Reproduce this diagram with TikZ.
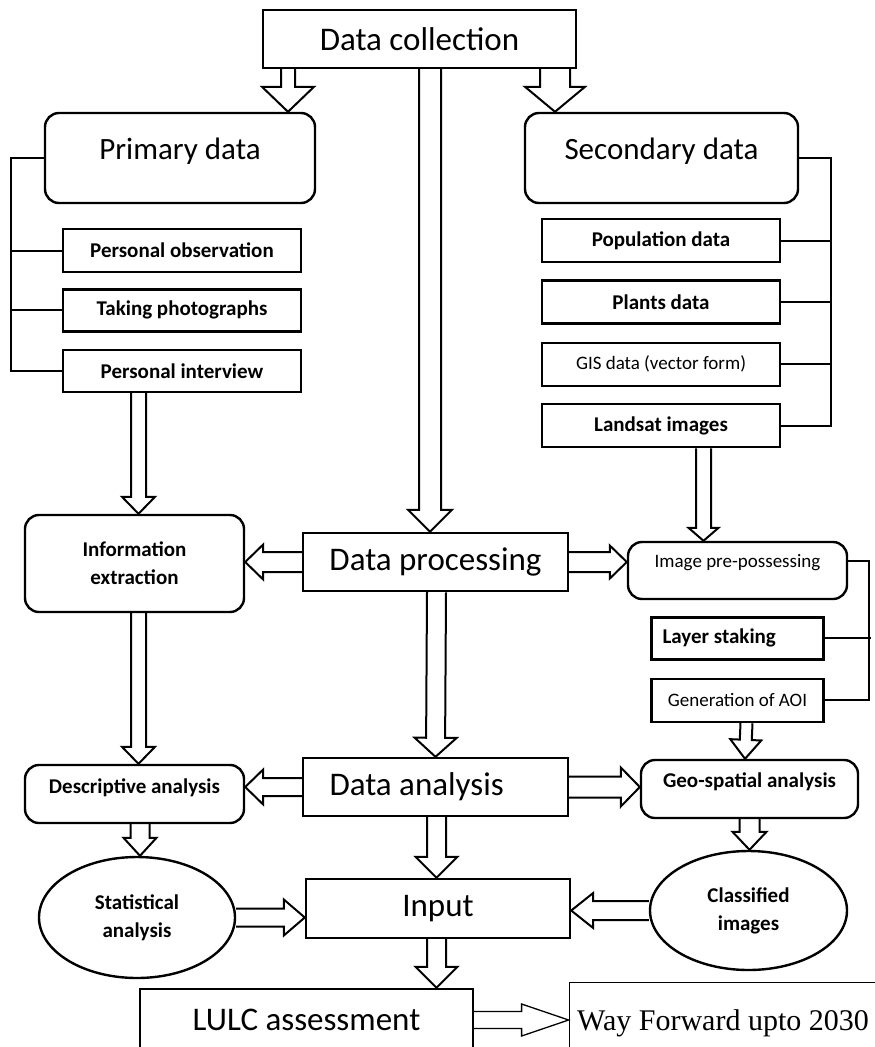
\documentclass[tikz,border=0pt]{standalone}
\usepackage{fontspec}
\setmainfont{Carlito}
\newfontfamily\serifw{Liberation Serif}
\usepackage{tikz}
\usetikzlibrary{
	positioning,
	calc,
	shapes.geometric
}
\tikzset{
	fw/.store in=\fw, fh/.store in=\fh, fl/.store in=\fl,
	fw=8pt, fh=17pt, fl=19pt
}

\begin{document}
\begin{tikzpicture}[
	x=1pt, y=-1pt, line width=2pt, line join=miter,
	box/.style={draw, line width=2.4pt, inner sep=0pt, align=center},
	round/.style={box, rounded corners=14pt},
	oval/.style={box, ellipse},
	big/.style={font=\fontsize{33}{38}\selectfont},
	mid/.style={font=\fontsize{31}{36}\selectfont},
	bold/.style={font=\bfseries\fontsize{21}{28}\selectfont},
	thin/.style={font=\fontsize{19}{23}\selectfont},
	fat/.style={to path={
		let \p1=($(\tikztotarget)!\fl!(\tikztostart)$) in
		($(\tikztostart)!\fw!90:(\tikztotarget)$) -- ($(\p1)!\fw!90:(\tikztotarget)$)
		-- ($(\p1)!\fh!90:(\tikztotarget)$) -- (\tikztotarget)
		-- ($(\p1)!\fh!-90:(\tikztotarget)$) -- ($(\p1)!\fw!-90:(\tikztotarget)$)
		-- ($(\tikztostart)!\fw!-90:(\tikztotarget)$)}}
]
	\useasboundingbox (0,0) rectangle (875,1047);
	\draw
		node [box,big,minimum width=313pt,minimum height=58pt]                    (dc)  at (419.5,39)   {Data collection}
		node [round,mid,minimum width=270pt,minimum height=90pt,text depth=18pt]  (pd)  at (180,158)    {Primary data}
		node [round,mid,minimum width=273pt,minimum height=90pt,text depth=18pt]  (sd)  at (661.5,158)  {Secondary data}
		node [box,bold,minimum width=238pt,minimum height=43pt]                   (po)  at (182,250.5)  {Personal observation}
		node [box,bold,minimum width=238pt,minimum height=42pt,below=15pt of po]  (tp)                  {Taking photographs}
		node [box,bold,minimum width=238pt,minimum height=42pt,below=16pt of tp]  (pi)                  {Personal interview}
		node [box,bold,minimum width=238pt,minimum height=43pt]                   (pop) at (661,240.5)  {Population data}
		node [box,bold,minimum width=238pt,minimum height=43pt,below=16pt of pop] (pl)                  {Plants data}
		node [box,thin,minimum width=238pt,minimum height=43pt,below=17pt of pl]  (gis)                 {GIS data (vector form)}
		node [box,bold,minimum width=238pt,minimum height=43pt,below=16pt of gis] (ls)                  {Landsat images}
		node [round,bold,minimum width=219pt,minimum height=97pt]                 (ie)  at (134.5,563.5) {Information\\extraction}
		node [box,big,minimum width=265pt,minimum height=58pt]                    (dp)  at (435.5,562)  {Data processing}
		node [round,thin,minimum width=219pt,minimum height=57pt,text depth=19pt] (ipp) at (737.5,570.5) {Image pre-possessing}
		node [box,bold,minimum width=172pt,minimum height=42pt,text width=150pt,align=flush left,below=16pt of ipp] (lst) {Layer staking}
		node [box,thin,minimum width=172pt,minimum height=43pt,below=17pt of lst] (aoi)                 {Generation of AOI}
		node [round,bold,minimum width=219pt,minimum height=58pt,text depth=16pt] (des) at (134.5,794)  {Descriptive analysis}
		node [box,big,minimum width=265pt,minimum height=58pt,text width=212pt,align=flush left] (dan) at (435.5,787) {Data analysis}
		node [round,bold,minimum width=217pt,minimum height=58pt,text depth=18pt] (gsa) at (749.5,789)  {Geo-spatial analysis}
		node [oval,bold,minimum width=196pt,minimum height=121pt]                 (sa)  at (137,917.5)  {Statistical\\analysis}
		node [box,big,minimum width=264pt,minimum height=59pt]                    (inp) at (438,908.5)  {Input}
		node [oval,bold,minimum width=197pt,minimum height=119pt]                 (ci)  at (748.5,910.5) {Classified\\images}
		node [box,big,minimum width=333pt,minimum height=62pt]                    (lulc) at (306.5,1020) {LULC assessment}
		node [draw,line width=0.8pt,minimum width=308pt,minimum height=82pt,font=\serifw\fontsize{30}{35}\selectfont] (wf) at (723,1023) {Way Forward upto 2030}

		([xshift=-131.5pt]dc.south) edge[fat,fw=7pt,fh=26pt,fl=25pt]     ([xshift=108pt]pd.north)
		([xshift=135.5pt]dc.south)  edge[fat,fw=15pt,fh=30pt,fl=25pt]    ([xshift=-106.5pt]sd.north)
		([xshift=10.5pt]dc.south)   edge[fat,fw=11pt,fh=22pt,fl=22pt]    ([xshift=-5.5pt]dp.north)
		([xshift=-43.5pt]pi.south)  edge[fat,fw=7.5pt,fh=16.5pt,fl=17pt] ([xshift=4pt]ie.north)
		([xshift=42.5pt]ls.south)   edge[fat,fw=7.5pt,fh=15pt,fl=13pt]   ([xshift=-34pt]ipp.north)
		(dp.west)                   edge[fat,fw=10pt,fh=17.5pt,fl=18pt]  (dp.west -| ie.east)
		(dp.east)                   edge[fat,fw=10pt,fh=16.5pt,fl=17pt]  (dp.east -| ipp.west)
		([xshift=1pt]dp.south)      edge[fat,fw=9.5pt,fh=21pt,fl=19pt]   (dan.north)
		([xshift=4pt]ie.south)      edge[fat,fw=7.5pt,fh=16.5pt,fl=17pt] ([xshift=4pt]des.north)
		([xshift=9pt]aoi.south)     edge[fat,fw=6pt,fh=15.5pt,fl=19pt]   ([xshift=-4.5pt]gsa.north)
		(dan.west)                  edge[fat,fw=9pt,fh=17.5pt,fl=18pt]   (dan.west -| des.east)
		(dan.east)                  edge[fat,fw=10.5pt,fh=19.5pt,fl=19pt] (dan.east -| gsa.west)
		([xshift=5.5pt]des.south)   edge[fat,fw=9.5pt,fh=16.5pt,fl=18pt] ([xshift=3pt]sa.north)
		([xshift=1pt]dan.south)     edge[fat,fw=9.5pt,fh=21pt,fl=21pt]   ([xshift=-1.5pt]inp.north)
		(gsa.south)                 edge[fat,fw=10pt,fh=17pt,fl=18pt]    (gsa.south |- ci.north)
		(sa.east)                   edge[fat,fw=9pt,fh=18pt,fl=21pt]     (sa.east -| inp.west)
		(ci.west)                   edge[fat,fw=9.5pt,fh=17.5pt,fl=22pt] (ci.west -| inp.east)
		([xshift=-1.5pt]inp.south)  edge[fat,fw=9.5pt,fh=21pt,fl=21pt]   ([xshift=-1.5pt]inp.south |- lulc.north)
		(lulc.east)                 edge[fat,line width=1.3pt,fw=8.5pt,fh=16pt,fl=47pt] (lulc.east -| wf.west)

		(pd.west) -- ++(-33,0) |- (pi.west)
		(po.west) -- ++(-51,0)
		(tp.west) -- ++(-51,0)
		(sd.east) -- ++(32,0) |- (ls.east)
		(pop.east) -- ++(50,0)
		(pl.east) -- ++(50,0)
		(gis.east) -- ++(50,0)
		([yshift=10pt]ipp.east) -- ++(21,0) |- (aoi.east)
		(lst.east) -- ++(46,0)
	;
\end{tikzpicture}
\end{document}
